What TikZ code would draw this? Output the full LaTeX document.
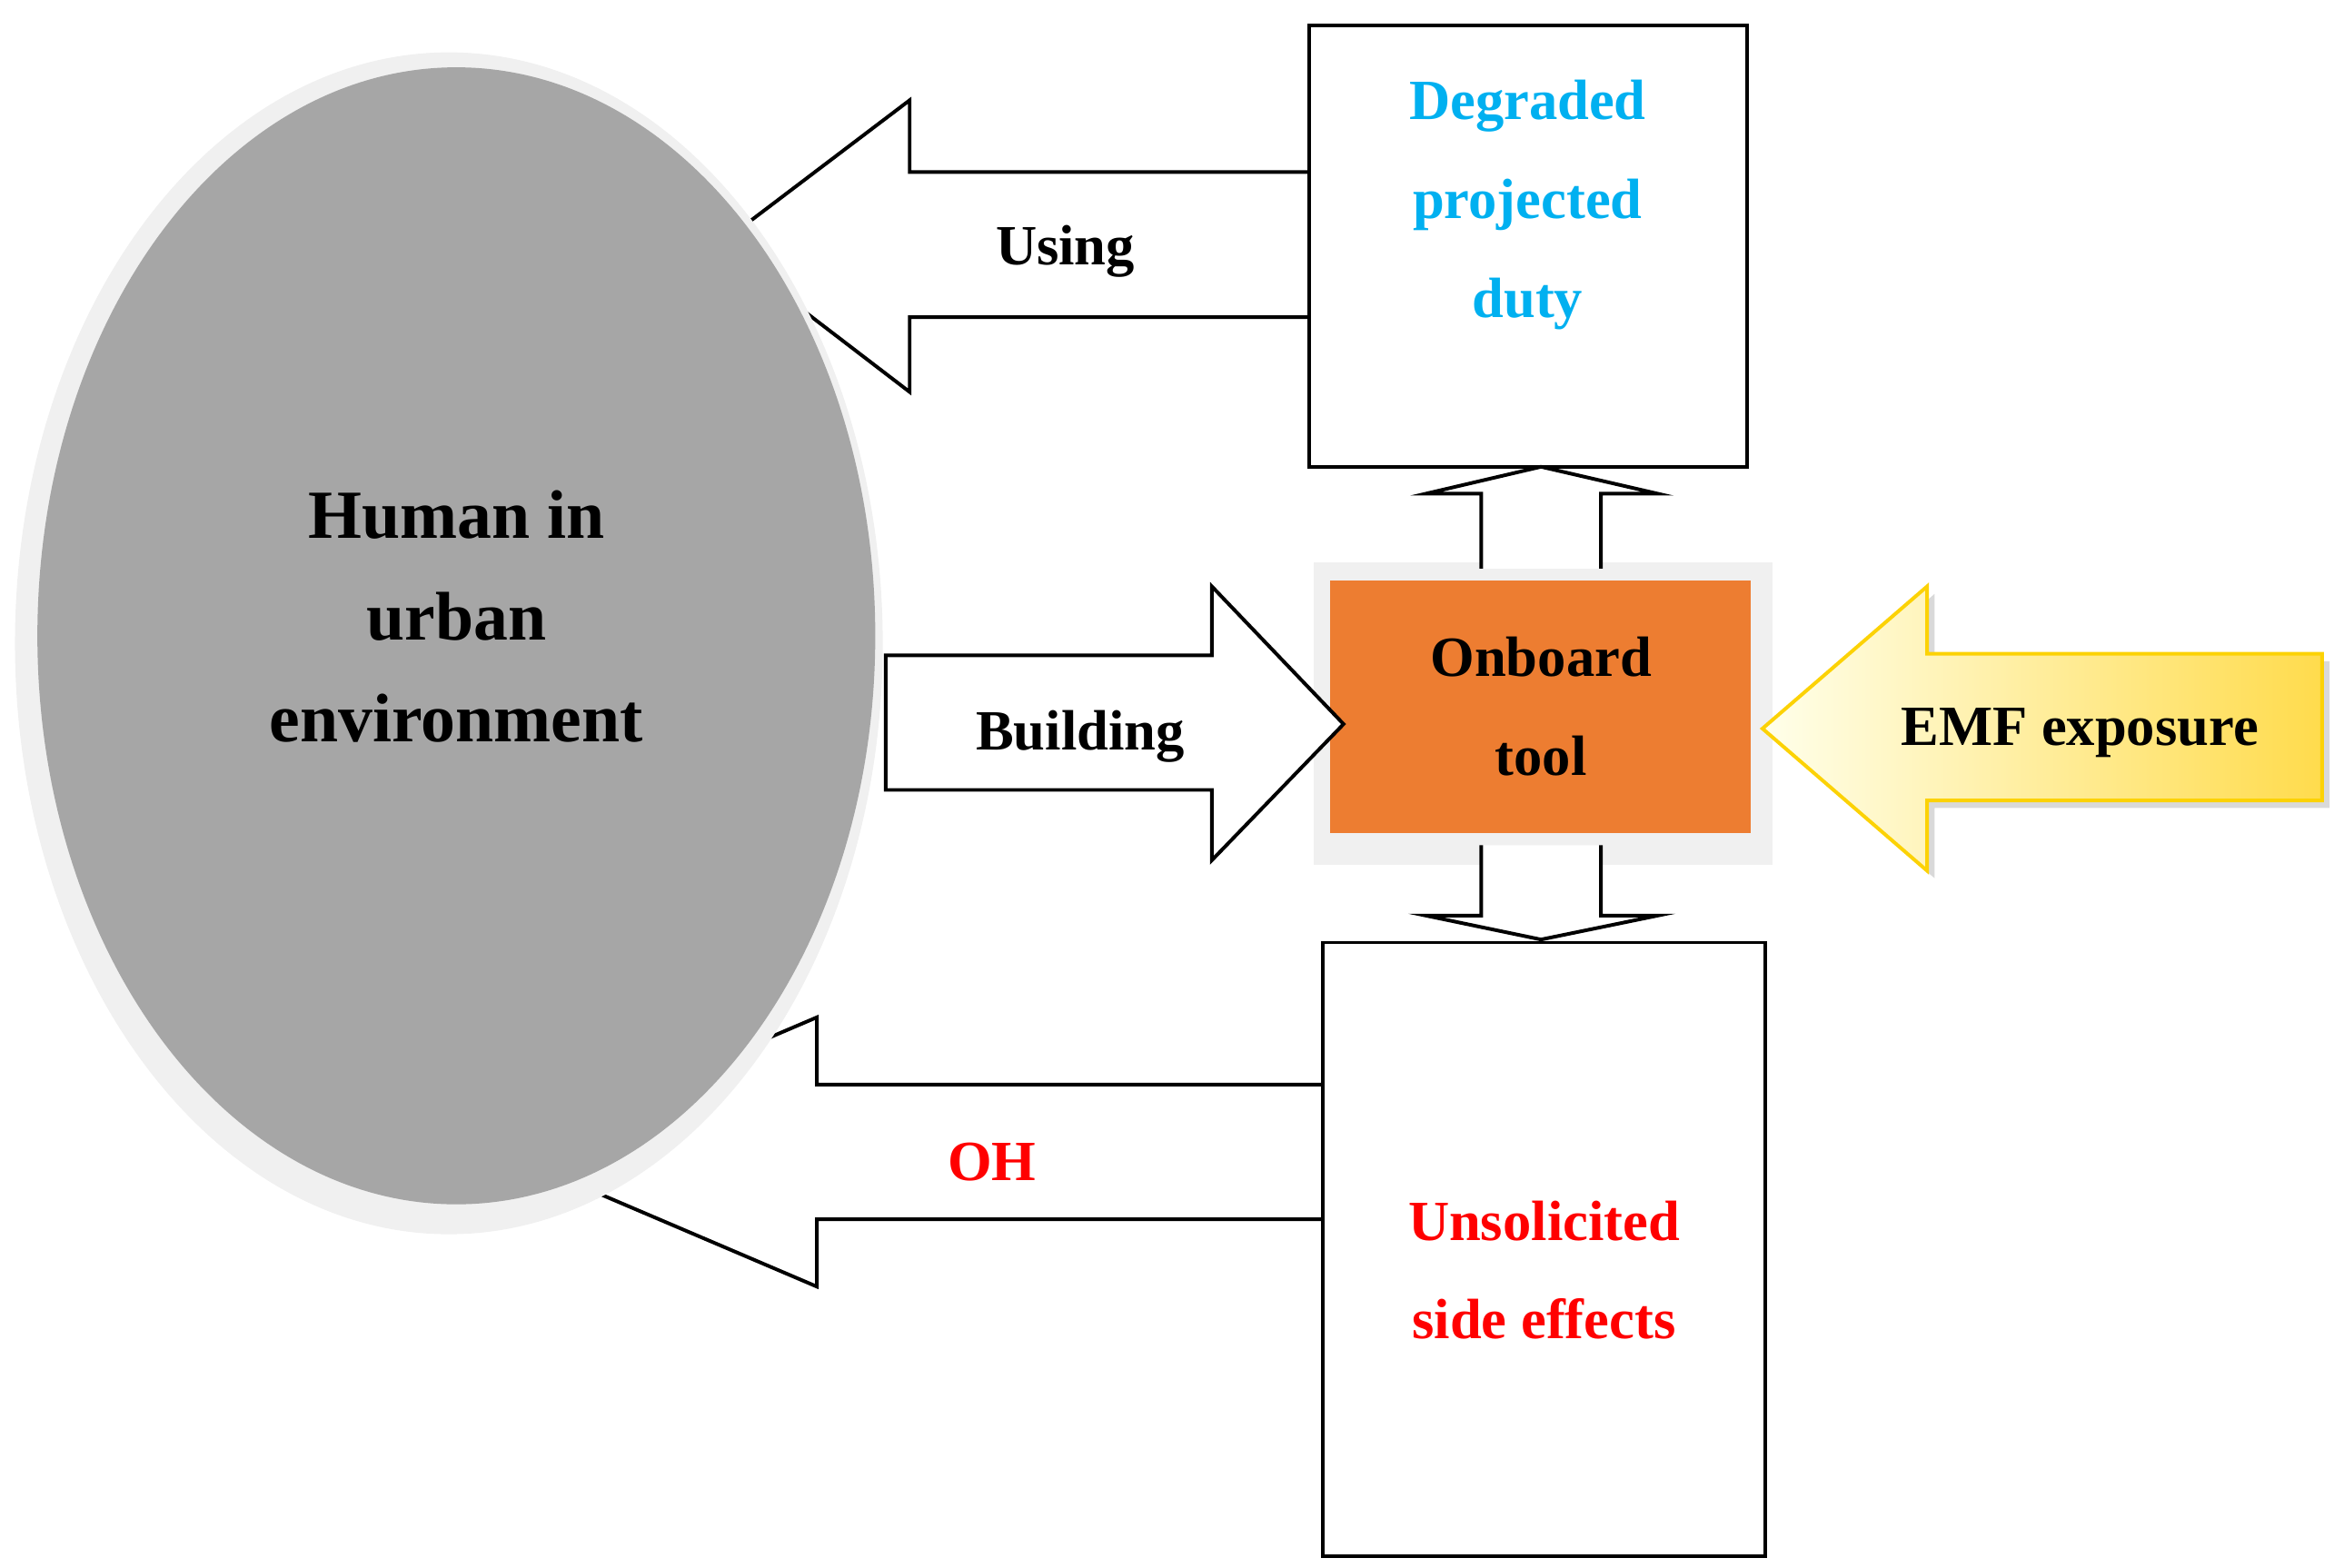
\documentclass[tikz,border=0pt]{standalone}
\usepackage{fontspec}
\setmainfont{Liberation Serif}
\usetikzlibrary{calc}
\definecolor{duty}{HTML}{00B0F0}
\definecolor{orangebox}{HTML}{ED7D31}
\definecolor{grayfill}{HTML}{A6A6A6}
\tikzset{
   big arrow/.style = {draw=black, fill=white, line width=1.2pt, line join=miter},
   label text/.style = {font=\fontsize{19}{22}\selectfont\bfseries, align=center},
   box text/.style = {font=\fontsize{19}{33}\selectfont\bfseries, align=center},
}
\begin{document}
\begin{tikzpicture}[x=0.5pt, y=-0.5pt]
   \useasboundingbox (0,0) rectangle (1560,1048);
   % arrows towards and from the human
   \draw [big arrow] (875,115) -- (608,115) -- (608,67) -- (480,164)
      -- (608,262) -- (608,212) -- (875,212);
   \draw [big arrow] (884,725) -- (546,725) -- (546,680) -- (335,770)
      -- (546,860) -- (546,815) -- (884,815);
   % human
   \fill [gray!12] (300,430) ellipse [x radius=290, y radius=395];
   \fill [grayfill] (305,425) ellipse [x radius=280, y radius=380];
   \node [box text, font=\fontsize{23}{34}\selectfont\bfseries] (human) at (305,412)
      {Human in\\urban\\environment};
   % boxes
   \draw [line width=1.2pt] (875,17) rectangle (1168,312);
   \node [box text, text=duty] (duty) at (1021,137) {Degraded\\projected\\duty};
   \draw [line width=1.2pt] (884,630) rectangle (1180,1040);
   \node [box text, text=red] (effects) at (1032,849) {Unsolicited\\side effects};
   \fill [gray!12] (878,376) rectangle (1185,578);
   \fill [orangebox] (889,388) rectangle (1170,557);
   \node [box text] (tool) at (1030,472) {Onboard\\tool};
   \draw [big arrow] (592,438) -- (810,438) -- (810,392) -- (898,484)
      -- (810,575) -- (810,528) -- (592,528) -- cycle;
   % up and down arrows
   \draw [big arrow] (990,380) -- (990,330) -- (953,330) -- (1030,312)
      -- (1108,330) -- (1070,330) -- (1070,380);
   \draw [big arrow] (990,565) -- (990,612) -- (953,612) -- (1030,628)
      -- (1108,612) -- (1070,612) -- (1070,565);
   % exposure
   \fill [gray!30] (1557,442) -- (1293,442) -- (1293,397) -- (1183,492)
      -- (1293,587) -- (1293,540) -- (1557,540) -- cycle;
   \shade [left color=yellow!8, right color=yellow!60!orange!70, draw=yellow!70!orange,
      line width=1.2pt] (1552,437) -- (1288,437) -- (1288,392) -- (1178,487)
      -- (1288,582) -- (1288,535) -- (1552,535) -- cycle;
   \node [label text] (emf) at (1390,490) {EMF exposure};
   % labels
   \node [label text] (using) at (712,168) {Using};
   \node [label text] (building) at (722,492) {Building};
   \node [label text, text=red] (oh) at (663,777) {OH};
\end{tikzpicture}
\end{document}
